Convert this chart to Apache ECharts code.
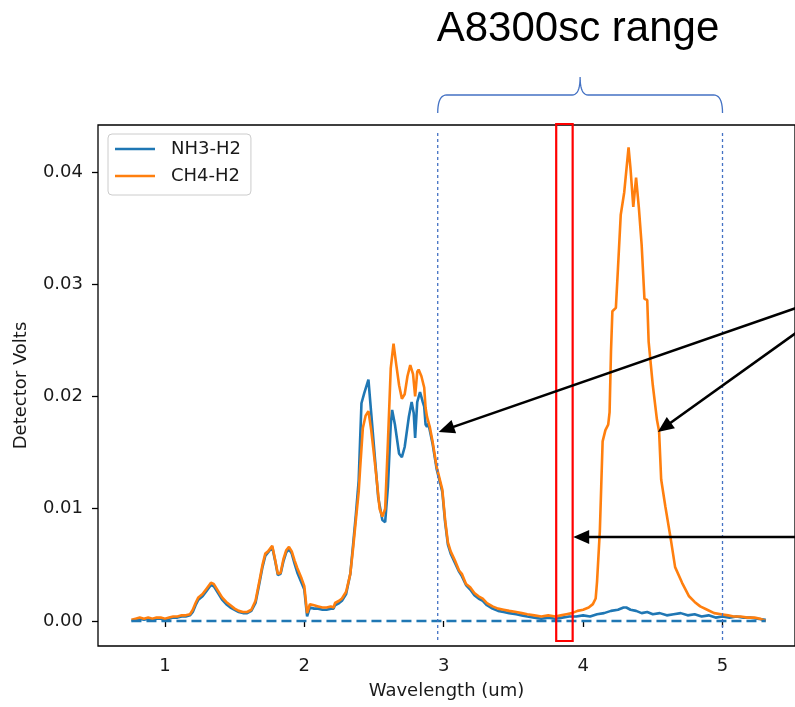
<!DOCTYPE html>
<html>
<head>
<meta charset="utf-8">
<script src="https://cdn.jsdelivr.net/npm/echarts@6/dist/echarts.min.js"></script>
<style>
  html, body { margin: 0; padding: 0; background: #fff; }
  #chart { width: 795px; height: 707px; }
</style>
</head>
<body>
<div id="chart"></div>
<script>
// Spectral response of the two gas cells, detector volts vs wavelength (um)
const wlCH4 = [0.76,0.79,0.82,0.85,0.88,0.91,0.94,0.97,1.00,1.03,1.06,1.09,1.12,1.15,1.18,1.20,1.22,1.24,1.27,1.30,1.33,1.35,1.38,1.41,1.44,1.47,1.50,1.53,1.56,1.59,1.62,1.65,1.68,1.70,1.72,1.74,1.77,1.79,1.81,1.83,1.85,1.87,1.89,1.91,1.93,1.95,1.98,2.00,2.02,2.04,2.07,2.10,2.13,2.16,2.19,2.21,2.22,2.25,2.27,2.30,2.33,2.35,2.37,2.39,2.40,2.42,2.44,2.46,2.48,2.50,2.52,2.54,2.56,2.58,2.60,2.62,2.64,2.66,2.68,2.70,2.72,2.74,2.76,2.78,2.795,2.81,2.82,2.84,2.86,2.87,2.88,2.90,2.92,2.95,2.99,3.01,3.03,3.05,3.08,3.11,3.13,3.16,3.19,3.22,3.25,3.28,3.31,3.35,3.39,3.43,3.47,3.52,3.56,3.60,3.65,3.70,3.75,3.80,3.84,3.88,3.92,3.96,4.00,4.04,4.07,4.09,4.10,4.12,4.13,4.14,4.16,4.18,4.19,4.20,4.21,4.235,4.25,4.27,4.295,4.326,4.34,4.36,4.38,4.40,4.42,4.44,4.46,4.47,4.50,4.53,4.545,4.56,4.59,4.63,4.66,4.71,4.76,4.80,4.84,4.89,4.94,4.99,5.04,5.08,5.13,5.18,5.23,5.27,5.31];
const voltCH4 = [0.0001,0.0002,0.0003,0.0002,0.0003,0.0002,0.0003,0.0003,0.0002,0.0003,0.0004,0.0004,0.0005,0.0005,0.0006,0.0010,0.0016,0.0021,0.0024,0.0029,0.0034,0.0033,0.0027,0.0021,0.0017,0.0014,0.0011,0.0009,0.0008,0.0008,0.0010,0.0018,0.0037,0.0050,0.0060,0.0062,0.0067,0.0055,0.0042,0.0043,0.0055,0.0063,0.0066,0.0062,0.0054,0.0047,0.0038,0.0031,0.0007,0.0015,0.0014,0.0013,0.0012,0.0012,0.0013,0.0012,0.0016,0.0018,0.0020,0.0026,0.0042,0.0065,0.0090,0.0115,0.0135,0.0172,0.0183,0.0187,0.0170,0.0148,0.0125,0.0100,0.0093,0.0100,0.0160,0.0225,0.0247,0.0228,0.0210,0.0198,0.0202,0.0218,0.0228,0.0220,0.0200,0.0222,0.0224,0.0218,0.0208,0.0190,0.0182,0.0173,0.0160,0.0137,0.0117,0.0090,0.0070,0.0062,0.0054,0.0045,0.0042,0.0033,0.0030,0.0025,0.0022,0.0020,0.0016,0.0013,0.0011,0.0010,0.0009,0.0008,0.0007,0.0006,0.0005,0.0004,0.0005,0.0004,0.0005,0.0006,0.0007,0.0009,0.0010,0.0012,0.0015,0.0020,0.0035,0.0080,0.0120,0.0160,0.0170,0.0175,0.0186,0.0240,0.0276,0.0279,0.0314,0.0362,0.0382,0.0422,0.0403,0.0369,0.0395,0.0368,0.0335,0.0287,0.0286,0.0249,0.0210,0.0179,0.0169,0.0126,0.0102,0.0072,0.0048,0.0034,0.0022,0.0017,0.0013,0.0010,0.0007,0.0006,0.0005,0.0004,0.0004,0.0003,0.0003,0.0002,0.0000];

const wlNH3 = [0.76,0.79,0.82,0.85,0.88,0.91,0.94,0.97,1.00,1.03,1.06,1.09,1.12,1.15,1.18,1.20,1.22,1.24,1.27,1.30,1.33,1.35,1.38,1.41,1.44,1.47,1.50,1.53,1.56,1.59,1.62,1.65,1.68,1.70,1.72,1.74,1.77,1.79,1.81,1.83,1.85,1.87,1.89,1.91,1.93,1.95,1.98,2.00,2.02,2.04,2.07,2.10,2.13,2.16,2.19,2.21,2.22,2.25,2.27,2.30,2.33,2.35,2.37,2.39,2.40,2.41,2.43,2.46,2.48,2.51,2.53,2.56,2.58,2.60,2.62,2.63,2.65,2.68,2.70,2.72,2.75,2.77,2.785,2.795,2.81,2.83,2.85,2.86,2.87,2.88,2.89,2.90,2.92,2.95,2.99,3.01,3.03,3.05,3.08,3.11,3.13,3.16,3.19,3.22,3.25,3.28,3.31,3.35,3.39,3.43,3.47,3.52,3.56,3.60,3.65,3.70,3.75,3.80,3.85,3.90,3.95,4.00,4.05,4.10,4.15,4.20,4.25,4.29,4.31,4.34,4.38,4.42,4.46,4.50,4.55,4.60,4.65,4.70,4.75,4.80,4.85,4.90,4.95,5.00,5.05,5.10,5.15,5.20,5.25,5.31];
const voltNH3 = [0.0000,0.0001,0.0002,0.0001,0.0002,0.0001,0.0002,0.0002,0.0001,0.0002,0.0003,0.0003,0.0004,0.0004,0.0005,0.0008,0.0014,0.0019,0.0022,0.0027,0.0032,0.0031,0.0025,0.0019,0.0015,0.0012,0.0010,0.0008,0.0007,0.0007,0.0009,0.0016,0.0035,0.0048,0.0058,0.0061,0.0066,0.0054,0.0041,0.0042,0.0053,0.0061,0.0064,0.0060,0.0051,0.0043,0.0034,0.0028,0.0004,0.0012,0.0011,0.0011,0.0010,0.0010,0.0011,0.0011,0.0014,0.0016,0.0018,0.0024,0.0042,0.0068,0.0095,0.0125,0.0160,0.0194,0.0203,0.0215,0.0185,0.0140,0.0110,0.0090,0.0088,0.0120,0.0175,0.0188,0.0175,0.0149,0.0146,0.0155,0.0182,0.0195,0.0185,0.0163,0.0195,0.0204,0.0195,0.0191,0.0175,0.0173,0.0176,0.0170,0.0158,0.0135,0.0115,0.0088,0.0068,0.0060,0.0052,0.0044,0.0040,0.0032,0.0028,0.0023,0.0020,0.0018,0.0014,0.0011,0.0009,0.0008,0.0007,0.0006,0.0005,0.0004,0.0003,0.0002,0.0003,0.0002,0.0003,0.0004,0.0004,0.0005,0.0004,0.0006,0.0007,0.0009,0.0010,0.0012,0.0012,0.0010,0.0009,0.0007,0.0008,0.0006,0.0007,0.0005,0.0006,0.0007,0.0005,0.0006,0.0004,0.0005,0.0003,0.0004,0.0003,0.0004,0.0003,0.0003,0.0002,0.0001];

// zero reference line
const wlZero = [0.76, 5.31];
const voltZero = [0, 0];

const xTicks = [1, 2, 3, 4, 5];
const yTicks = [0, 0.01, 0.02, 0.03, 0.04];

// annotation anchors, in wavelength (um) / volts
const rangeStart = 2.957, rangeEnd = 5.0;
const bandLo = 3.807, bandHi = 3.925;
const arrowTips = [[2.964, 0.01684], [4.536, 0.01684], [3.929, 0.00748]];

const zip = (a, b) => a.map((x, i) => [x, b[i]]);
const FONT = '"DejaVu Sans", sans-serif';
const TXT = '#1a1a1a';

const chart = echarts.init(document.getElementById('chart'), null, { renderer: 'canvas' });

const option = {
  animation: false,
  backgroundColor: '#fff',
  grid: {
    left: 98, top: 125, width: 697, height: 521,
    show: true, borderColor: '#000', borderWidth: 1.3, backgroundColor: 'transparent'
  },
  legend: {
    data: ['NH3-H2', 'CH4-H2'],
    orient: 'vertical',
    left: 108, top: 134,
    icon: 'rect', itemWidth: 40, itemHeight: 2.5, itemGap: 9,
    padding: [6, 10, 10, 7],
    borderColor: '#cccccc', borderWidth: 1, borderRadius: 4,
    backgroundColor: 'rgba(255,255,255,0.85)',
    formatter: n => '{t|' + n + '}',
    textStyle: {
      rich: { t: { fontFamily: FONT, fontSize: 18, color: TXT, padding: [0, 0, 0, 11], lineHeight: 20 } }
    }
  },
  xAxis: {
    type: 'value', min: 0.52, max: 5.52,
    name: 'Wavelength (um)', nameLocation: 'middle', nameGap: 36,
    nameTextStyle: { fontFamily: FONT, fontSize: 18, color: TXT },
    axisLine: { show: false },
    axisTick: { show: true, customValues: xTicks, length: 6, lineStyle: { color: '#000', width: 1.3 } },
    axisLabel: { customValues: xTicks, fontFamily: FONT, fontSize: 18, color: TXT, margin: 11 },
    splitLine: { show: false }
  },
  yAxis: {
    type: 'value', min: -0.00223, max: 0.04419,
    name: 'Detector Volts', nameLocation: 'middle', nameGap: 68,
    nameTextStyle: { fontFamily: FONT, fontSize: 18, color: TXT },
    axisLine: { show: false },
    axisTick: { show: true, customValues: yTicks, length: 6, lineStyle: { color: '#000', width: 1.3 } },
    axisLabel: { customValues: yTicks, fontFamily: FONT, fontSize: 18, color: TXT, margin: 15,
                 formatter: v => v.toFixed(2) },
    splitLine: { show: false }
  },
  series: [
    {
      name: 'NH3-H2', type: 'line', data: zip(wlNH3, voltNH3),
      showSymbol: false, z: 2, color: '#1f77b4',
      lineStyle: { color: '#1f77b4', width: 2.6 }
    },
    {
      name: 'CH4-H2', type: 'line', data: zip(wlCH4, voltCH4),
      showSymbol: false, z: 3, color: '#ff7f0e',
      lineStyle: { color: '#ff7f0e', width: 2.6 }
    },
    {
      name: 'zero', type: 'line', data: zip(wlZero, voltZero),
      showSymbol: false, z: 4, color: '#1f77b4',
      lineStyle: { color: '#1f77b4', width: 2.4, type: [10, 5] }
    }
  ]
};
chart.setOption(option);

// overlay: measurement-range brace, guides, band and pointer arrows
const px = (w, v) => chart.convertToPixel({ gridIndex: 0 }, [w, v]);
const BLUE = '#4472C4';
const gx1 = px(rangeStart, 0)[0], gx2 = px(rangeEnd, 0)[0];
const bx1 = px(bandLo, 0)[0], bx2 = px(bandHi, 0)[0];
const mid = (gx1 + gx2) / 2;

// sample a quadratic curve into points
function quad(p0, c, p1, n) {
  const out = [];
  for (let i = 0; i <= n; i++) {
    const t = i / n, s = 1 - t;
    out.push([s * s * p0[0] + 2 * s * t * c[0] + t * t * p1[0],
              s * s * p0[1] + 2 * s * t * c[1] + t * t * p1[1]]);
  }
  return out;
}
const bracePts = [].concat(
  quad([gx1, 113], [gx1, 95], [gx1 + 9, 95], 10),
  quad([mid - 8, 95], [mid, 95], [mid, 77], 10),
  quad([mid, 77], [mid, 95], [mid + 8, 95], 10),
  quad([gx2 - 9, 95], [gx2, 95], [gx2, 113], 10)
);

function arrow(x1, y1, x2, y2) {
  const L = 16, H = 7;
  const dx = x2 - x1, dy = y2 - y1, d = Math.hypot(dx, dy);
  const ux = dx / d, uy = dy / d;
  const bx = x2 - ux * L, by = y2 - uy * L;
  return [
    { type: 'line', shape: { x1: x1, y1: y1, x2: bx + ux * 2, y2: by + uy * 2 },
      style: { stroke: '#000', lineWidth: 2.6 }, z: 100 },
    { type: 'polygon', shape: { points: [[x2, y2], [bx - uy * H, by + ux * H], [bx + uy * H, by - ux * H]] },
      style: { fill: '#000' }, z: 100 }
  ];
}

const tips = arrowTips.map(t => px(t[0], t[1]));
const graphics = [
  { type: 'text', x: gx1 - 1, y: 29, z: 100,
    style: { text: 'A8300sc range', font: '42px "Liberation Sans", Arial, sans-serif', fill: '#000',
             verticalAlign: 'middle', align: 'left' } },
  { type: 'polyline', z: 90, shape: { points: bracePts },
    style: { stroke: BLUE, lineWidth: 1.3, fill: null } },
  { type: 'line', z: 90, shape: { x1: gx1, y1: 133, x2: gx1, y2: 642 },
    style: { stroke: BLUE, lineWidth: 1.3, lineDash: [3, 3] } },
  { type: 'line', z: 90, shape: { x1: gx2, y1: 133, x2: gx2, y2: 642 },
    style: { stroke: BLUE, lineWidth: 1.3, lineDash: [3, 3] } },
  { type: 'rect', z: 95, shape: { x: bx1, y: 124, width: bx2 - bx1, height: 517 },
    style: { stroke: '#ff0000', lineWidth: 2.2, fill: null } }
].concat(
  arrow(796, 308, tips[0][0], tips[0][1]),
  arrow(796, 333, tips[1][0], tips[1][1]),
  arrow(796, tips[2][1], tips[2][0], tips[2][1])
);
chart.setOption({ graphic: { elements: graphics } });
</script>
</body>
</html>
